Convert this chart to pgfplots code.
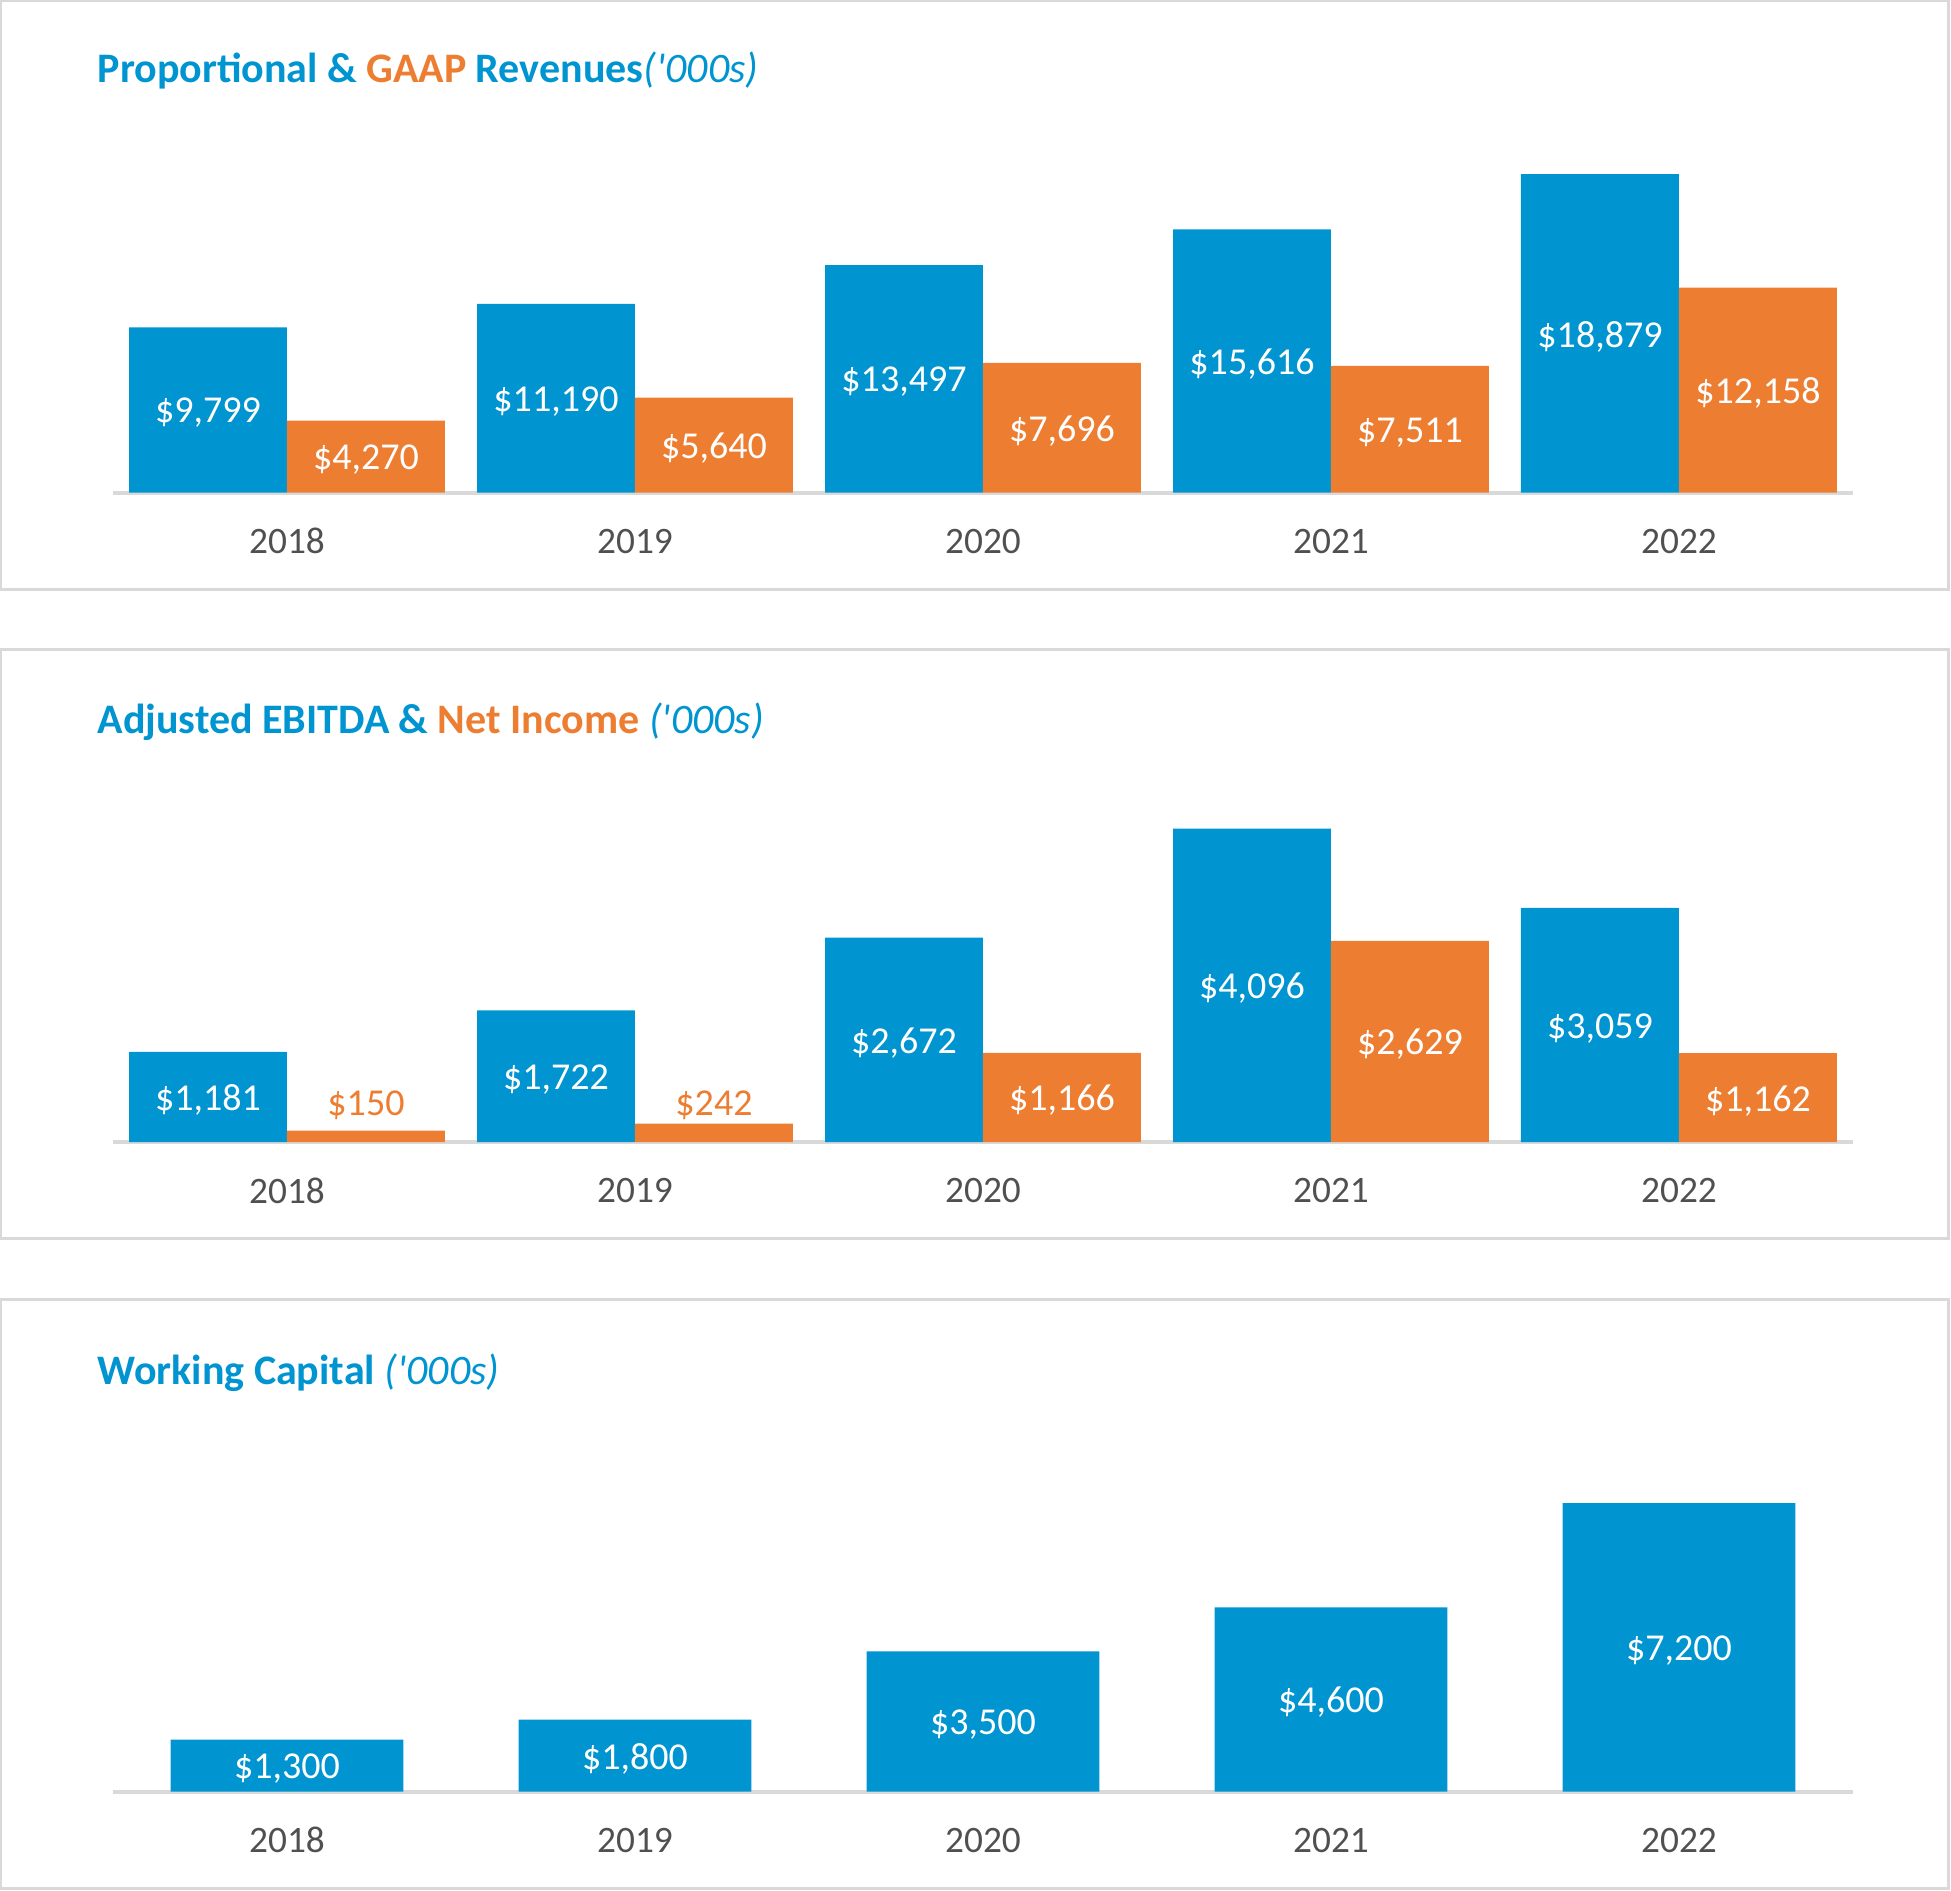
\documentclass[border=0pt]{standalone}
\usepackage{pgfplots}
\pgfplotsset{compat=1.18}
\usepackage{pgfplotstable}
\usepackage{fontspec}
\setmainfont{Carlito}[Ligatures=TeXOff]

\definecolor{cblue}{HTML}{0094D1}
\definecolor{corange}{HTML}{ED7D31}
\definecolor{cgray}{HTML}{505050}
\definecolor{cline}{HTML}{D9D9D9}

% x = category index (2018..2022), a = blue series, b = orange series
\pgfplotstableread{
x a b
0 9799 4270
1 11190 5640
2 13497 7696
3 15616 7511
4 18879 12158
}\revenue

\pgfplotstableread{
x a b
0 1181 150
1 1722 242
2 2672 1166
3 4096 2629
4 3059 1162
}\ebitda

\pgfplotstableread{
x a
0 1300
1 1800
2 3500
3 4600
4 7200
}\capital

\pgfplotsset{
  panel/.style={
    anchor=south west, scale only axis, width=522pt, height=117.81pt,
    xmin=-0.5, xmax=4.5, ymin=0, clip=false,
    axis x line*=bottom, axis y line=none,
    x axis line style={draw=cline, line width=1.1pt, -},
    xtick={0,...,4}, xticklabels={2018,2019,2020,2021,2022},
    major tick length=0pt, ytick=\empty,
    xticklabel style={anchor=center, yshift=-14.5pt,
      font=\fontsize{11.2}{13}\selectfont, text=cgray},
  },
  val/.style={
    draw=none, point meta=explicit,
    nodes near coords={\$\pgfmathprintnumber[fixed,precision=0,1000 sep={,},assume math mode=true]{\pgfplotspointmeta}},
    every node near coord/.append style={anchor=center, yshift=-0.9pt,
      font=\fontsize{11.4}{13}\selectfont, text=white},
  },
  half/.style={y filter/.expression={y/2}},
}

\begin{document}
\begin{tikzpicture}[x=0.3pt, y=0.3pt]
\useasboundingbox (0,0) rectangle (1951,1890);

% panel frames
\draw[cline, line width=0.9pt] (1,1889) rectangle (1948.5,1300);
\draw[cline, line width=0.9pt] (1,1240) rectangle (1948.5,651);
\draw[cline, line width=0.9pt] (1,590.5) rectangle (1948.5,1.5);

% titles
\node[anchor=base west, inner sep=0pt, text=cblue,
  font=\fontsize{12.6}{15}\selectfont\bfseries] at (97,1807.3)
  {Proportional \& \textcolor{corange}{GAAP} Revenues{\mdseries\itshape('000s)}};
\node[anchor=base west, inner sep=0pt, text=cblue,
  font=\fontsize{12.6}{15}\selectfont\bfseries] at (97,1156.7)
  {Adjusted EBITDA \& \textcolor{corange}{Net Income} {\mdseries\itshape('000s)}};
\node[anchor=base west, inner sep=0pt, text=cblue,
  font=\fontsize{12.6}{15}\selectfont\bfseries] at (97,506)
  {Working Capital {\mdseries\itshape('000s)}};

% revenues
\begin{axis}[panel, at={(33.9pt,419.19pt)}, ymax=23277]
  \addplot[ybar, bar width=0.454, bar shift=-0.227, fill=cblue, draw=none]
    table[x=x, y=a] {\revenue};
  \addplot[ybar, bar width=0.454, bar shift=0.227, fill=corange, draw=none]
    table[x=x, y=b] {\revenue};
  \addplot[val, half, x filter/.expression={x-0.227}]
    table[x=x, y=a, meta=a] {\revenue};
  \addplot[val, half, x filter/.expression={x+0.227}]
    table[x=x, y=b, meta=b] {\revenue};
\end{axis}

% EBITDA and net income
\begin{axis}[panel, at={(33.9pt,224.34pt)}, ymax=5129]
  \addplot[ybar, bar width=0.454, bar shift=-0.227, fill=cblue, draw=none]
    table[x=x, y=a] {\ebitda};
  \addplot[ybar, bar width=0.454, bar shift=0.227, fill=corange, draw=none]
    table[x=x, y=b] {\ebitda};
  \addplot[val, half, x filter/.expression={x-0.227}]
    table[x=x, y=a, meta=a] {\ebitda};
  \addplot[val, half, x filter/.expression={x+0.227}, skip coords between index={0}{2}]
    table[x=x, y=b, meta=b] {\ebitda};
  % small net income values: label sits above the bar, in orange
  \addplot[val, x filter/.expression={x+0.227}, y filter/.expression={520},
    skip coords between index={2}{5},
    every node near coord/.append style={text=corange}]
    table[x=x, y=b, meta=b] {\ebitda};
\end{axis}

% working capital
\begin{axis}[panel, at={(33.9pt,29.49pt)}, ymax=9794]
  \addplot[ybar, bar width=0.669, bar shift=0, fill=cblue, draw=none]
    table[x=x, y=a] {\capital};
  \addplot[val, half]
    table[x=x, y=a, meta=a] {\capital};
\end{axis}
\end{tikzpicture}
\end{document}
